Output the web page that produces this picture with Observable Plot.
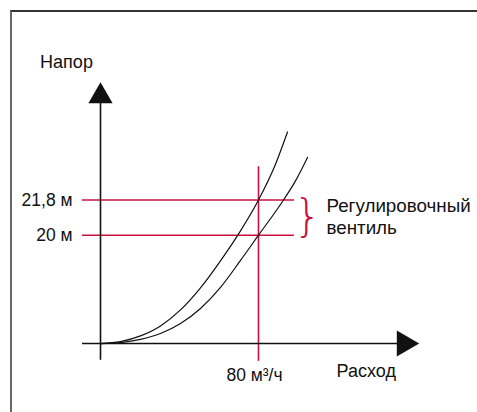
<!DOCTYPE html>
<html>
<head>
<meta charset="utf-8">
<script src="https://cdn.jsdelivr.net/npm/d3@7"></script>
<script src="https://cdn.jsdelivr.net/npm/@observablehq/plot@0.6"></script>
<style>
  html, body { margin: 0; padding: 0; background: #fff; }
  #wrap { position: relative; width: 477px; height: 412px; overflow: hidden; }
  #border { position: absolute; left: 10px; top: 10px; right: -5px; bottom: -5px;
            border-top: 2px solid #333; border-left: 2px solid #666; }
  #chart { position: absolute; left: 0; top: 0; }
  svg { font-family: "Liberation Sans", Arial, sans-serif; }
</style>
</head>
<body>
<div id="wrap"><div id="border"></div><div id="chart"></div></div>
<script>
// Flow (m³/h) and head (m)
const flowUpper = [0, 10.13, 20.25, 30.38, 40.51, 50.63, 60.76, 70.89, 80, 88.61, 94.68];
const headUpper = [14.46, 14.56, 14.85, 15.36, 16.18, 17.31, 18.69, 20.22, 21.8, 23.63, 25.28];
const flowLower = [0, 10.13, 20.25, 30.38, 40.51, 50.63, 60.76, 70.89, 80, 92.66, 98.73, 104.81];
const headLower = [14.46, 14.51, 14.67, 14.97, 15.48, 16.25, 17.33, 18.71, 20.0, 21.8, 22.78, 23.98];

// Reference levels
const headLevels = [21.8, 20];
const headLabels = ["21,8 м", "20 м"];
const flowPoint = 80;
const flowLabel = "80 м³/ч";

// Schematic axis extents (data units)
const axisFlow = [-9.1, 153.8];   // x axis from left overhang to arrow
const axisHead = [13.6, 27.1];    // y axis from bottom overhang to arrow
const baseHead = 14.46;           // where the flow axis sits
const refFlowMax = 98.2;          // end of red horizontal lines
const refHeadRange = [13.55, 23.5];

const upper = flowUpper.map((f, i) => ({flow: f, head: headUpper[i]}));
const lower = flowLower.map((f, i) => ({flow: f, head: headLower[i]}));
const levels = headLevels.map((h, i) => ({head: h, label: headLabels[i]}));

const red = "#c8103e";

const chart = Plot.plot({
  width: 477,
  height: 412,
  margin: 0,
  x: {domain: [0, 80], range: [100, 258], axis: null},
  y: {domain: [20, 21.8], range: [234.7, 199.5], axis: null},
  style: {background: "transparent", fontFamily: "Liberation Sans, Arial, sans-serif"},
  marks: [
    // red reference lines
    Plot.ruleY(levels, {y: "head", x1: axisFlow[0], x2: refFlowMax, stroke: red, strokeWidth: 1.6}),
    Plot.ruleX([flowPoint], {x: d => d, y1: refHeadRange[0], y2: refHeadRange[1], stroke: red, strokeWidth: 1.6}),
    // axes
    Plot.ruleY([baseHead], {y: d => d, x1: axisFlow[0], x2: axisFlow[1] - 3, stroke: "#111", strokeWidth: 1.6}),
    Plot.ruleX([0], {x: d => d, y1: axisHead[0], y2: axisHead[1] - 0.3, stroke: "#111", strokeWidth: 1.6}),
    Plot.dot([{flow: 0, head: axisHead[1]}], {x: "flow", y: "head", symbol: "triangle", r: 9, fill: "#111", stroke: null}),
    Plot.dot([{flow: axisFlow[1], head: baseHead}], {x: "flow", y: "head", symbol: "triangle", r: 9.6, fill: "#111", stroke: null, rotate: 90}),
    // curves
    Plot.line(upper, {x: "flow", y: "head", curve: "monotone-x", stroke: "#111", strokeWidth: 1.2}),
    Plot.line(lower, {x: "flow", y: "head", curve: "monotone-x", stroke: "#111", strokeWidth: 1.2}),
    // labels
    Plot.text(levels, {x: axisFlow[0], y: "head", text: "label", textAnchor: "end", dx: -10, fontSize: 17.5, fill: "#111"}),
    Plot.text([flowLabel], {x: flowPoint, y: baseHead, text: d => d, dy: 32, dx: -4, fontSize: 17.5, fill: "#111"}),
    Plot.text(["Напор"], {x: 0, y: axisHead[1], text: d => d, dx: -34, dy: -34, fontSize: 18, fill: "#111"}),
    Plot.text(["Расход"], {x: axisFlow[1], y: baseHead, text: d => d, dx: -38, dy: 28, fontSize: 18, fill: "#111"}),
    Plot.text(["}"], {x: refFlowMax, y: (headLevels[0] + headLevels[1]) / 2, text: d => d, dx: 13, dy: -1, fontSize: 44, fontWeight: 200, fontFamily: "DejaVu Sans", fill: red}),
    Plot.text(["Регулировочный", "вентиль"], {x: refFlowMax, y: (d, i) => headLevels[0] - 0.3 - i * 1.12, text: d => d, textAnchor: "start", dx: 32, fontSize: 18.8, fill: "#111"})
  ]
});
document.getElementById("chart").appendChild(chart);
</script>
</body>
</html>
